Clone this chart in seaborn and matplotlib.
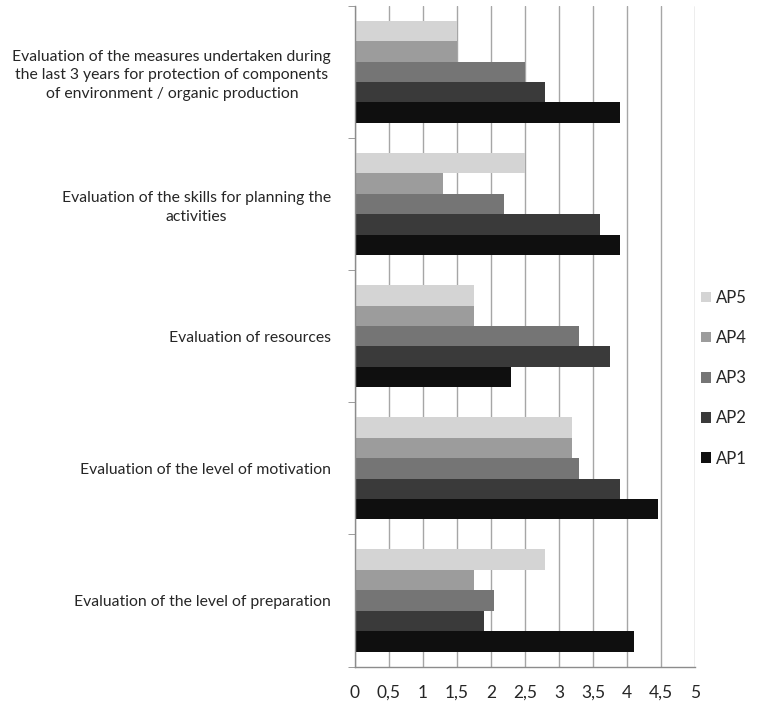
import pandas as pd
import numpy as np
import matplotlib
matplotlib.use('Agg')
import matplotlib.pyplot as plt
import seaborn as sns
from matplotlib.ticker import FuncFormatter, MultipleLocator, FixedLocator

categories = [
    'Evaluation of the measures undertaken during\nthe last 3 years for protection of components\nof environment / organic production',
    'Evaluation of the skills for planning the\nactivities',
    'Evaluation of resources',
    'Evaluation of the level of motivation',
    'Evaluation of the level of preparation',
]
series = ['AP5', 'AP4', 'AP3', 'AP2', 'AP1']
ap5 = [1.5, 2.5, 1.75, 3.2, 2.8]
ap4 = [1.5, 1.3, 1.75, 3.2, 1.75]
ap3 = [2.5, 2.2, 3.3, 3.3, 2.05]
ap2 = [2.8, 3.6, 3.75, 3.9, 1.9]
ap1 = [3.9, 3.9, 2.3, 4.45, 4.1]
colors = ['#d4d4d4', '#9c9c9c', '#757575', '#3a3a3a', '#0f0f0f']

# long table for seaborn
rows = []
for name, vals in zip(series, [ap5, ap4, ap3, ap2, ap1]):
    for cat, v in zip(categories, vals):
        rows.append({'category': cat, 'series': name, 'value': v})
df = pd.DataFrame(rows)

sns.set_style('white')
plt.rcParams['font.family'] = ['Lato', 'DejaVu Sans']

fig = plt.figure(figsize=(7.73, 7.07), dpi=100)
ax = fig.add_axes([0.459, 0.057, 0.440, 0.935])

sns.barplot(data=df, y='category', x='value', hue='series', order=categories,
            hue_order=series, palette=colors, orient='h', width=0.773, gap=0,
            saturation=1, linewidth=0, ax=ax)

ax.set_xlim(0, 5)
ax.set_ylim(4.5, -0.5)
ax.xaxis.set_major_locator(MultipleLocator(0.5))
ax.xaxis.set_major_formatter(FuncFormatter(lambda v, p: ('%g' % v).replace('.', ',')))
ax.set_axisbelow(True)
ax.grid(axis='x', color='#a6a6a6', linewidth=1)
ax.grid(axis='y', visible=False)

for s in ['top', 'right']:
    ax.spines[s].set_visible(False)
for s in ['left', 'bottom']:
    ax.spines[s].set_color('#8c8c8c')
    ax.spines[s].set_linewidth(1)

ax.tick_params(axis='x', which='major', length=5, color='#8c8c8c', labelsize=12.5, pad=8)
ax.tick_params(axis='y', which='major', length=0, labelsize=11.3, pad=17)
ax.yaxis.set_minor_locator(FixedLocator(np.arange(-0.5, 5, 1)))
ax.tick_params(axis='y', which='minor', length=5, color='#8c8c8c', left=True)
for lab in ax.get_yticklabels():
    lab.set_multialignment('center')
    lab.set_linespacing(1.4)
    lab.set_color('#262626')
for lab in ax.get_xticklabels():
    lab.set_color('#262626')

ax.set_xlabel('')
ax.set_ylabel('')

handles, labels = ax.get_legend_handles_labels()
ax.legend(handles, labels, loc='center left', bbox_to_anchor=(0.888, 0.465),
          bbox_transform=fig.transFigure, frameon=False, fontsize=12,
          handlelength=0.6, handleheight=0.6, handletextpad=0.3,
          labelspacing=1.45, labelcolor='#262626')

fig.savefig('out.png', dpi=100)
